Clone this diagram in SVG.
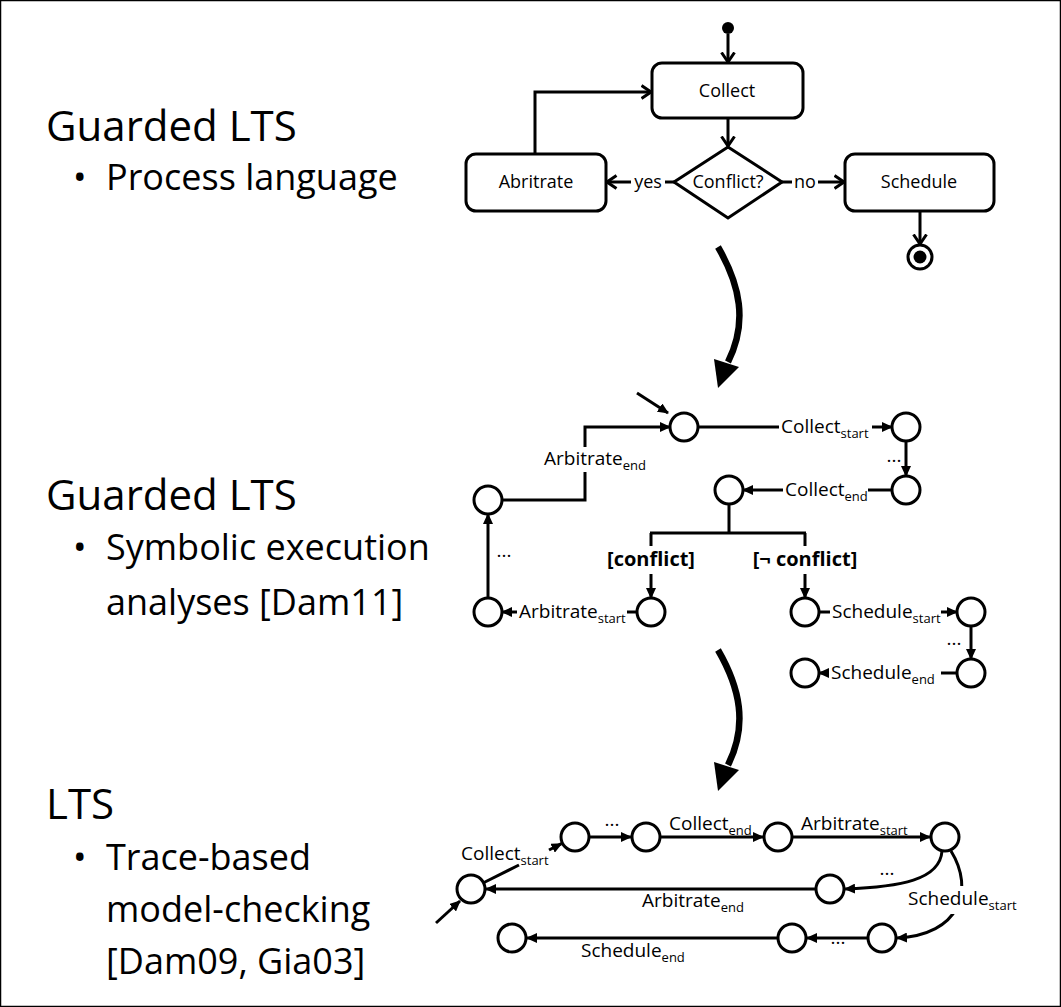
<svg xmlns="http://www.w3.org/2000/svg" width="1061" height="1007" viewBox="0 0 1061 1007">
<style>
text{font-family:"Open Sans","Liberation Sans",sans-serif;fill:#000}
.h{font-size:42px}
.b{font-size:36px}
.fl{font-size:18px;text-anchor:middle}
.lb{font-size:19px}
.sub{font-size:13px}
.g{font-size:20px;font-weight:bold;text-anchor:middle}
.st{fill:#fff;stroke:#000;stroke-width:3}
.ln{fill:none;stroke:#000;stroke-width:3}
.ch{marker-end:url(#chev)}
.tr{marker-end:url(#tri)}
.big{fill:none;stroke:#000;stroke-width:6.5}
</style>
<defs>
<marker id="chev" markerUnits="userSpaceOnUse" viewBox="0 0 12 16" refX="10.5" refY="8" markerWidth="12" markerHeight="16" orient="auto">
<path d="M1,1.5 L10.5,8 L1,14.5" fill="none" stroke="#000" stroke-width="3"/>
</marker>
<marker id="tri" markerUnits="userSpaceOnUse" viewBox="0 0 11 10" refX="10" refY="5" markerWidth="11" markerHeight="10" orient="auto">
<path d="M0,0 L11,5 L0,10 z" fill="#000"/>
</marker>
</defs>
<rect x="0.5" y="0.5" width="1060" height="1006" fill="#fff" stroke="#000" stroke-width="1.5"/>

<g id="left-text">
<text class="h" x="46" y="141">Guarded LTS</text>
<text class="b" x="73" y="190">•</text>
<text class="b" x="106" y="190">Process language</text>
<text class="h" x="46" y="510">Guarded LTS</text>
<text class="b" x="73" y="560">•</text>
<text class="b" x="106" y="560">Symbolic execution</text>
<text class="b" x="106" y="615">analyses [Dam11]</text>
<text class="h" x="46" y="819">LTS</text>
<text class="b" x="73" y="870">•</text>
<text class="b" x="106" y="870">Trace-based</text>
<text class="b" x="106" y="922">model-checking</text>
<text class="b" x="106" y="974">[Dam09, Gia03]</text>
</g>

<!-- Flowchart -->
<g id="fc-start"><circle cx="728" cy="28" r="6" fill="#000"/></g>
<g id="fc-collect"><rect class="st" x="652" y="63" width="151" height="55" rx="10"/><text class="fl" x="727" y="97">Collect</text></g>
<g id="fc-conflict"><polygon class="st" points="728,147 782,182 728,218 674,182"/><text class="fl" x="728" y="188">Conflict?</text></g>
<g id="fc-abritrate"><rect class="st" x="466" y="154" width="140" height="57" rx="10"/><text class="fl" x="536" y="188">Abritrate</text></g>
<g id="fc-schedule"><rect class="st" x="845" y="154" width="149" height="57" rx="10"/><text class="fl" x="919" y="188">Schedule</text></g>
<g id="fc-final"><circle cx="920" cy="257" r="12" fill="#fff" stroke="#000" stroke-width="3"/><circle cx="920" cy="257" r="6.5" fill="#000"/></g>

<g id="fc-connectors">
<path class="ln ch" d="M728,34 V62"/>
<path class="ln ch" d="M728,118 V146"/>
<path class="ln" d="M674,182 H665"/>
<path class="ln ch" d="M631,182 H607"/>
<text class="fl" x="648" y="188">yes</text>
<path class="ln" d="M782,182 H792"/>
<path class="ln ch" d="M818,182 H844"/>
<text class="fl" x="805" y="188">no</text>
<path class="ln ch" d="M920,211 V244"/>
<path class="ln ch" d="M535,154 V92 H651"/>
</g>

<!-- Transformation arrows -->
<g id="transform-arrows">
<path class="big" d="M718,247 C740,285 748,322 728,362"/>
<polygon points="718,388 714,359 739,367"/>
<path class="big" d="M718,650 C740,688 748,725 728,765"/>
<polygon points="718,791 714,762 739,770"/>
</g>

<!-- Guarded LTS states -->
<g id="g-states" fill="#fff" stroke="#000" stroke-width="3">
<circle id="gA" cx="684" cy="427" r="14"/>
<circle id="gB" cx="906" cy="427" r="14"/>
<circle id="gC" cx="906" cy="490" r="14"/>
<circle id="gD" cx="729" cy="490" r="14"/>
<circle id="gE" cx="651" cy="612" r="14"/>
<circle id="gF" cx="805" cy="612" r="14"/>
<circle id="gG" cx="488" cy="612" r="14"/>
<circle id="gH" cx="488" cy="500" r="14"/>
<circle id="gI" cx="971" cy="612" r="14"/>
<circle id="gJ" cx="971" cy="673" r="14"/>
<circle id="gK" cx="805" cy="673" r="14"/>
</g>

<g id="g-connectors">
<path class="ln tr" d="M637,393 L668,413"/>
<path class="ln" d="M698,427 H779"/>
<path class="ln tr" d="M872,427 H892"/>
<text class="lb" x="781" y="433">Collect<tspan class="sub" dy="5">start</tspan></text>
<path class="ln tr" d="M906,441 V476"/>
<text class="lb" x="894" y="462" text-anchor="middle">...</text>
<path class="ln" d="M892,490 H868"/>
<path class="ln tr" d="M783,490 H743"/>
<text class="lb" x="785" y="496">Collect<tspan class="sub" dy="5">end</tspan></text>
<path class="ln" d="M729,504 V533 M650,533 H806 M651,533 V546 M805,533 V546"/>
<path class="ln tr" d="M651,574 V598"/>
<path class="ln tr" d="M805,574 V598"/>
<text class="g" x="651" y="566">[conflict]</text>
<text class="g" x="805" y="566">[¬ conflict]</text>
<path class="ln" d="M637,612 H627"/>
<path class="ln tr" d="M517,612 H502"/>
<text class="lb" x="519" y="618">Arbitrate<tspan class="sub" dy="5">start</tspan></text>
<path class="ln tr" d="M488,598 V514"/>
<text class="lb" x="504" y="557" text-anchor="middle">...</text>
<path class="ln" d="M502,500 H585 V472"/>
<path class="ln tr" d="M585,447 V427 H670"/>
<text class="lb" x="544" y="465">Arbitrate<tspan class="sub" dy="5">end</tspan></text>
<path class="ln" d="M819,612 H830"/>
<path class="ln tr" d="M941,612 H957"/>
<text class="lb" x="832" y="618">Schedule<tspan class="sub" dy="5">start</tspan></text>
<path class="ln tr" d="M971,626 V659"/>
<text class="lb" x="954" y="645" text-anchor="middle">...</text>
<path class="ln" d="M957,673 H941"/>
<path class="ln tr" d="M829,673 H819"/>
<text class="lb" x="831" y="679">Schedule<tspan class="sub" dy="5">end</tspan></text>
</g>

<!-- LTS states -->
<g id="l-states" fill="#fff" stroke="#000" stroke-width="3">
<circle id="p0" cx="471" cy="889" r="14"/>
<circle id="p1" cx="575" cy="837" r="14"/>
<circle id="p2" cx="646" cy="837" r="14"/>
<circle id="p3" cx="778" cy="837" r="14"/>
<circle id="p4" cx="945" cy="837" r="14"/>
<circle id="p5" cx="830" cy="889" r="14"/>
<circle id="q1" cx="882" cy="938" r="14"/>
<circle id="q2" cx="792" cy="938" r="14"/>
<circle id="q3" cx="512" cy="938" r="14"/>
</g>

<g id="l-connectors">
<path class="ln tr" d="M436,923 L460,901"/>
<path class="ln" d="M484,882.5 L519,865"/>
<path class="ln tr" d="M549,850 L561.5,843.7"/>
<text class="lb" x="461" y="860">Collect<tspan class="sub" dy="5">start</tspan></text>
<path class="ln tr" d="M589,837 H631"/>
<text class="lb" x="612" y="826" text-anchor="middle">...</text>
<path class="ln tr" d="M660,837 H763"/>
<text class="lb" x="669" y="830">Collect<tspan class="sub" dy="5">end</tspan></text>
<path class="ln tr" d="M792,837 H930"/>
<text class="lb" x="801" y="830">Arbitrate<tspan class="sub" dy="5">start</tspan></text>
<path class="ln tr" d="M942,851 C940,880 900,887 845,889"/>
<text class="lb" x="887" y="875" text-anchor="middle">...</text>
<path class="ln tr" d="M816,889 H486"/>
<text class="lb" x="642" y="907">Arbitrate<tspan class="sub" dy="5">end</tspan></text>
<path class="ln tr" d="M951,851 C975,890 960,935 897,938"/>
<rect x="905" y="886" width="115" height="28" fill="#fff"/>
<text class="lb" x="908" y="905">Schedule<tspan class="sub" dy="5">start</tspan></text>
<path class="ln tr" d="M868,938 H807"/>
<text class="lb" x="838" y="944" text-anchor="middle">...</text>
<path class="ln tr" d="M778,938 H527"/>
<text class="lb" x="581" y="957">Schedule<tspan class="sub" dy="5">end</tspan></text>
</g>
</svg>
